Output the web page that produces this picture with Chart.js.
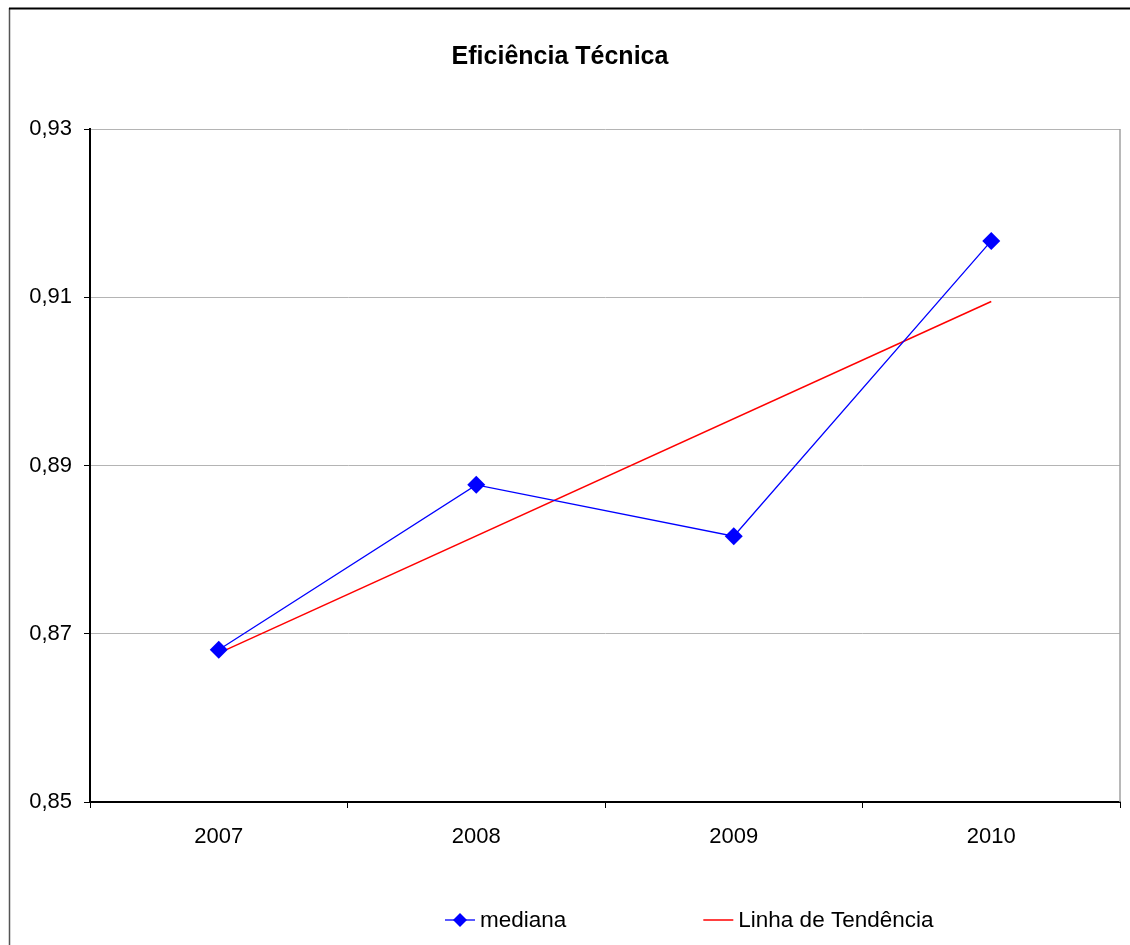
<!DOCTYPE html>
<html>
<head>
<meta charset="utf-8">
<script src="https://cdn.jsdelivr.net/npm/chart.js@4/dist/chart.umd.min.js"></script>
<style>
    html, body { margin: 0; padding: 0; background: #fff; }
    #wrap { width: 1130px; height: 945px; }
</style>
</head>
<body>
<div id="wrap"><canvas id="myChart"></canvas></div>
<script>
const years = ['2007', '2008', '2009', '2010'];
const mediana = [0.8681, 0.8877, 0.8816, 0.9167];
// trend line: only its two ends, joined straight across
const tendencia = [0.8677, null, null, 0.9095];
const yTicks = [0.85, 0.87, 0.89, 0.91, 0.93];

Chart.defaults.font.family = "'Liberation Sans', Arial, sans-serif";
Chart.defaults.color = '#000';

// white page with the frame lines round the chart
const frame = {
    id: 'frame',
    beforeDraw(chart) {
        const c = chart.ctx;
        c.save();
        c.fillStyle = '#fff';
        c.fillRect(0, 0, chart.width, chart.height);
        c.strokeStyle = '#555';
        c.lineWidth = 1.5;
        c.beginPath();
        c.moveTo(9.5, 8);
        c.lineTo(9.5, chart.height);
        c.stroke();
        c.strokeStyle = '#000';
        c.lineWidth = 2;
        c.beginPath();
        c.moveTo(9, 8.5);
        c.lineTo(chart.width, 8.5);
        c.stroke();
        c.restore();
    },
    beforeDatasetsDraw(chart) {
        const a = chart.chartArea;
        const c = chart.ctx;
        c.save();
        c.strokeStyle = '#a0a0a0';
        c.lineWidth = 1.5;
        c.beginPath();
        c.moveTo(a.right, a.top);
        c.lineTo(a.right, a.bottom);
        c.stroke();
        c.restore();
    }
};

// legend along the bottom: line sample (with marker) + label
const bottomLegend = {
    id: 'bottomLegend',
    afterDraw(chart) {
        const c = chart.ctx;
        const y = 920;
        let x = 445;
        c.save();
        c.font = "22.5px 'Liberation Sans', Arial, sans-serif";
        c.textBaseline = 'middle';
        c.fillStyle = '#000';
        chart.data.datasets.forEach((ds) => {
            c.strokeStyle = ds.borderColor;
            c.lineWidth = ds.borderWidth;
            c.beginPath();
            c.moveTo(x, y);
            c.lineTo(x + 30, y);
            c.stroke();
            if (ds.pointRadius > 0) {
                c.fillStyle = ds.pointBackgroundColor;
                c.beginPath();
                c.moveTo(x + 15, y - 7);
                c.lineTo(x + 22, y);
                c.lineTo(x + 15, y + 7);
                c.lineTo(x + 8, y);
                c.closePath();
                c.fill();
                c.fillStyle = '#000';
            }
            c.fillText(ds.label, x + 35, y + 1);
            x += 35 + c.measureText(ds.label).width + 137;
        });
        c.restore();
    }
};

const ctx = document.getElementById('myChart');
const myChart = new Chart(ctx, {
    type: 'line',
    data: {
        labels: years,
        datasets: [{
            label: 'mediana',
            data: mediana,
            borderColor: '#0000ff',
            backgroundColor: '#0000ff',
            pointBackgroundColor: '#0000ff',
            pointBorderColor: '#0000ff',
            borderWidth: 1.3,
            pointStyle: 'rectRot',
            pointRadius: 9,
            pointBorderWidth: 0,
            tension: 0
        }, {
            label: 'Linha de Tendência',
            data: tendencia,
            borderColor: '#ff0000',
            backgroundColor: '#ff0000',
            borderWidth: 1.5,
            pointRadius: 0,
            spanGaps: true,
            tension: 0
        }]
    },
    options: {
        responsive: true,
        maintainAspectRatio: false,
        animation: false,
        layout: {
            padding: { left: 0, right: 10, top: 0, bottom: 73 }
        },
        plugins: {
            legend: { display: false },
            tooltip: { enabled: false },
            title: {
                display: true,
                text: 'Eficiência Técnica',
                color: '#000',
                font: { size: 25, weight: 'bold' },
                padding: { top: 42, bottom: 57 }
            }
        },
        scales: {
            x: {
                offset: true,
                grid: {
                    offset: true,
                    drawOnChartArea: false,
                    tickLength: 6,
                    tickColor: '#000'
                },
                border: { color: '#000', width: 2 },
                ticks: { font: { size: 22 }, padding: 16 },
                afterFit: (s) => { s.height = 70; }
            },
            y: {
                min: 0.85,
                max: 0.93,
                grid: {
                    color: '#b4b4b4',
                    tickLength: 6,
                    tickColor: '#000'
                },
                border: { color: '#000', width: 2 },
                ticks: {
                    font: { size: 22 },
                    padding: 12,
                    callback: (v) => v.toFixed(2).replace('.', ',')
                },
                afterBuildTicks: (s) => { s.ticks = yTicks.map((v) => ({ value: v })); },
                afterFit: (s) => { s.width = 90; }
            }
        }
    },
    plugins: [frame, bottomLegend]
});
</script>
</body>
</html>
